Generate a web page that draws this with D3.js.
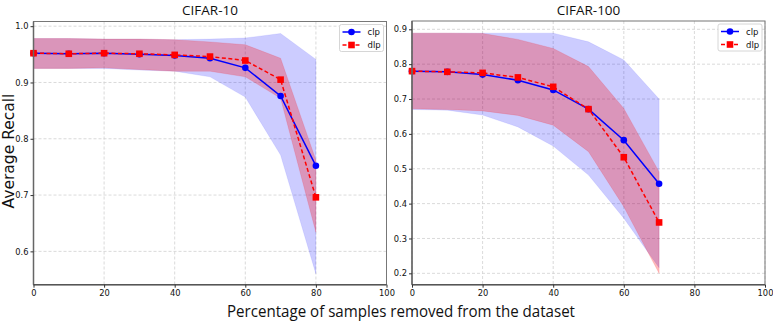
<!DOCTYPE html>
<html>
<head>
<meta charset="utf-8">
<script src="https://cdn.jsdelivr.net/npm/d3@7"></script>
<style>
  body { margin: 0; background: #fff; }
  svg { display: block; }
</style>
</head>
<body>
<div id="chart"></div>
<script>
// x values (percentage removed)
var pct10 = [0, 10, 20, 30, 40, 50, 60, 70, 80];
var pct100 = [0, 10, 20, 30, 40, 50, 60, 70];

// CIFAR-10
var c10Clp   = [0.952, 0.951, 0.952, 0.950, 0.948, 0.943, 0.926, 0.876, 0.752];
var c10ClpLo = [0.925, 0.925, 0.925, 0.922, 0.920, 0.910, 0.874, 0.771, 0.560];
var c10ClpHi = [0.978, 0.978, 0.977, 0.977, 0.976, 0.977, 0.979, 0.987, 0.941];
var c10Dlp   = [0.952, 0.951, 0.952, 0.951, 0.949, 0.946, 0.939, 0.905, 0.696];
var c10DlpLo = [0.925, 0.925, 0.926, 0.923, 0.920, 0.920, 0.910, 0.872, 0.634];
var c10DlpHi = [0.978, 0.978, 0.977, 0.977, 0.976, 0.972, 0.967, 0.943, 0.762];

// CIFAR-100
var c100Clp   = [0.780, 0.778, 0.770, 0.754, 0.726, 0.671, 0.582, 0.457];
var c100ClpLo = [0.670, 0.668, 0.654, 0.620, 0.565, 0.482, 0.358, 0.216];
var c100ClpHi = [0.889, 0.889, 0.889, 0.889, 0.889, 0.864, 0.812, 0.700];
var c100Dlp   = [0.780, 0.778, 0.775, 0.762, 0.735, 0.671, 0.533, 0.346];
var c100DlpLo = [0.672, 0.670, 0.666, 0.653, 0.625, 0.549, 0.391, 0.200];
var c100DlpHi = [0.889, 0.889, 0.888, 0.871, 0.845, 0.793, 0.673, 0.491];

var xTicks = [0, 20, 40, 60, 80, 100];
var yTicks10 = [0.6, 0.7, 0.8, 0.9, 1.0];
var yTicks100 = [0.2, 0.3, 0.4, 0.5, 0.6, 0.7, 0.8, 0.9];

var W = 773, H = 322;
var svg = d3.select("#chart").append("svg")
  .attr("width", W).attr("height", H)
  .style("font-family", "'DejaVu Sans', sans-serif");

function zip(xs, ys) { return xs.map(function(x, i) { return {x: x, y: ys[i]}; }); }
function band(xs, lo, hi) { return xs.map(function(x, i) { return {x: x, lo: lo[i], hi: hi[i]}; }); }

function drawPanel(p) {
  var x = d3.scaleLinear().domain([0, 100]).range([p.left, p.right]);
  var y = d3.scaleLinear().domain(p.yDomain).range([p.bottom, p.top]);
  var g = svg.append("g");

  // grid
  g.selectAll(".gx").data(xTicks).enter().append("line")
    .attr("x1", function(d) { return x(d); }).attr("x2", function(d) { return x(d); })
    .attr("y1", p.top).attr("y2", p.bottom)
    .attr("stroke", "#d0d0d0").attr("stroke-width", 0.8).attr("stroke-dasharray", "3,2");
  g.selectAll(".gy").data(p.yTicks).enter().append("line")
    .attr("x1", p.left).attr("x2", p.right)
    .attr("y1", function(d) { return y(d); }).attr("y2", function(d) { return y(d); })
    .attr("stroke", "#d0d0d0").attr("stroke-width", 0.8).attr("stroke-dasharray", "3,2");

  // bands
  var area = d3.area()
    .x(function(d) { return x(d.x); })
    .y0(function(d) { return y(d.lo); })
    .y1(function(d) { return y(d.hi); });
  g.append("path").datum(band(p.xs, p.clpLo, p.clpHi))
    .attr("d", area).attr("fill", "#0000ff").attr("fill-opacity", 0.2)
    .attr("stroke", "#0000ff").attr("stroke-opacity", 0.1).attr("stroke-width", 0.8);
  g.append("path").datum(band(p.xs, p.dlpLo, p.dlpHi))
    .attr("d", area).attr("fill", "#ff0000").attr("fill-opacity", 0.27)
    .attr("stroke", "#ff0000").attr("stroke-opacity", 0.15).attr("stroke-width", 0.8);

  var line = d3.line().x(function(d) { return x(d.x); }).y(function(d) { return y(d.y); });

  // clp
  g.append("path").datum(zip(p.xs, p.clp)).attr("d", line)
    .attr("fill", "none").attr("stroke", "#0000ff").attr("stroke-width", 1.5);
  g.selectAll(".mc").data(zip(p.xs, p.clp)).enter().append("circle")
    .attr("cx", function(d) { return x(d.x); }).attr("cy", function(d) { return y(d.y); })
    .attr("r", 3.3).attr("fill", "#0000ff");

  // dlp
  g.append("path").datum(zip(p.xs, p.dlp)).attr("d", line)
    .attr("fill", "none").attr("stroke", "#ff0000").attr("stroke-width", 1.5)
    .attr("stroke-dasharray", "4,2.5");
  g.selectAll(".md").data(zip(p.xs, p.dlp)).enter().append("rect")
    .attr("x", function(d) { return x(d.x) - 3.3; }).attr("y", function(d) { return y(d.y) - 3.3; })
    .attr("width", 6.6).attr("height", 6.6).attr("fill", "#ff0000");

  // spines
  g.append("rect").attr("x", p.left).attr("y", p.top)
    .attr("width", p.right - p.left).attr("height", p.bottom - p.top)
    .attr("fill", "none").attr("stroke", "#777").attr("stroke-width", 1);
  g.append("line").attr("x1", p.left).attr("x2", p.left).attr("y1", p.top).attr("y2", p.bottom)
    .attr("stroke", "#666").attr("stroke-width", 1.5);
  g.append("line").attr("x1", p.left).attr("x2", p.right).attr("y1", p.bottom).attr("y2", p.bottom)
    .attr("stroke", "#555").attr("stroke-width", 1.5);

  // axes
  var ax = g.append("g").attr("transform", "translate(0," + p.bottom + ")")
    .call(d3.axisBottom(x).tickValues(xTicks).tickSize(3).tickPadding(2).tickFormat(d3.format("d")));
  ax.select(".domain").remove();
  ax.selectAll("line").attr("stroke", "#333");
  ax.selectAll("text").attr("font-size", 8.3).attr("fill", "#111").attr("font-family", "'DejaVu Sans', sans-serif");

  var ay = g.append("g").attr("transform", "translate(" + p.left + ",0)")
    .call(d3.axisLeft(y).tickValues(p.yTicks).tickSize(3).tickPadding(2).tickFormat(d3.format(".1f")));
  ay.select(".domain").remove();
  ay.selectAll("line").attr("stroke", "#333");
  ay.selectAll("text").attr("font-size", 8.3).attr("fill", "#111").attr("font-family", "'DejaVu Sans', sans-serif");

  // title
  g.append("text").attr("x", (p.left + p.right) / 2).attr("y", 14.5)
    .attr("text-anchor", "middle").attr("font-family", "'Open Sans', sans-serif")
    .attr("font-size", 13.5).attr("fill", "#111").text(p.title);

  // legend
  var lx = p.right - 47, ly = p.top + 3;
  g.append("rect").attr("x", lx).attr("y", ly).attr("width", 44).attr("height", 27).attr("rx", 2)
    .attr("fill", "#fff").attr("fill-opacity", 0.85).attr("stroke", "#ccc").attr("stroke-width", 0.8);
  var items = [{name: "clp", color: "#0000ff", dash: null, sq: false},
               {name: "dlp", color: "#ff0000", dash: "4,2.5", sq: true}];
  items.forEach(function(it, i) {
    var yy = ly + 7.5 + i * 13;
    g.append("line").attr("x1", lx + 3).attr("x2", lx + 21).attr("y1", yy).attr("y2", yy)
      .attr("stroke", it.color).attr("stroke-width", 1.5).attr("stroke-dasharray", it.dash);
    if (it.sq) {
      g.append("rect").attr("x", lx + 12 - 3.3).attr("y", yy - 3.3).attr("width", 6.6).attr("height", 6.6).attr("fill", it.color);
    } else {
      g.append("circle").attr("cx", lx + 12).attr("cy", yy).attr("r", 3.3).attr("fill", it.color);
    }
    g.append("text").attr("x", lx + 28).attr("y", yy + 3).attr("font-size", 8.5).attr("fill", "#111").text(it.name);
  });
}

drawPanel({
  left: 33.5, right: 386.5, top: 21.5, bottom: 284.7,
  yDomain: [0.5408, 1.0083], yTicks: yTicks10, title: "CIFAR-10",
  xs: pct10, clp: c10Clp, clpLo: c10ClpLo, clpHi: c10ClpHi,
  dlp: c10Dlp, dlpLo: c10DlpLo, dlpHi: c10DlpHi
});
drawPanel({
  left: 412, right: 765, top: 21, bottom: 284.7,
  yDomain: [0.1674, 0.9238], yTicks: yTicks100, title: "CIFAR-100",
  xs: pct100, clp: c100Clp, clpLo: c100ClpLo, clpHi: c100ClpHi,
  dlp: c100Dlp, dlpLo: c100DlpLo, dlpHi: c100DlpHi
});

// shared axis labels
svg.append("text").attr("x", 401).attr("y", 317)
  .attr("text-anchor", "middle").attr("font-family", "'Open Sans', sans-serif")
  .attr("font-size", 16).attr("fill", "#111")
  .attr("textLength", 348).attr("lengthAdjust", "spacingAndGlyphs")
  .text("Percentage of samples removed from the dataset");
svg.append("text").attr("transform", "translate(14,151) rotate(-90)")
  .attr("text-anchor", "middle").attr("font-size", 15.5).attr("fill", "#111")
  .text("Average Recall");
</script>
</body>
</html>
